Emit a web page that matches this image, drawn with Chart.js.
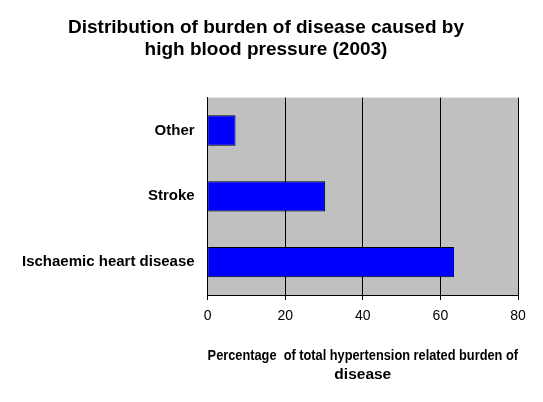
<!DOCTYPE html>
<html>
<head>
<meta charset="utf-8">
<script src="https://cdn.jsdelivr.net/npm/chart.js@4"></script>
<style>
  html, body { margin: 0; padding: 0; background: #fff; }
  #wrap { width: 543px; height: 402px; }
</style>
</head>
<body>
<div id="wrap"><canvas id="chart" width="543" height="402"></canvas></div>
<script>
const categories = ['Other', 'Stroke', 'Ischaemic heart disease'];
const burdenShare = [7.2, 30.3, 63.5];
const xTicks = [0, 20, 40, 60, 80];

// gray plot background like the original spreadsheet chart
const plotBg = {
    id: 'plotBg',
    beforeDraw(chart) {
        const { ctx, chartArea: a } = chart;
        ctx.save();
        ctx.fillStyle = '#C0C0C0';
        ctx.fillRect(a.left, a.top, a.right - a.left, a.bottom - a.top);
        ctx.restore();
    }
};

Chart.defaults.font.family = '"Liberation Sans", Arial, sans-serif';
Chart.defaults.color = '#000';

new Chart(document.getElementById('chart').getContext('2d'), {
    type: 'bar',
    data: {
        labels: categories,
        datasets: [{
            data: burdenShare,
            backgroundColor: '#0000FF',
            borderColor: '#000',
            borderWidth: 1,
            categoryPercentage: 1,
            barPercentage: 0.46
        }]
    },
    plugins: [plotBg],
    options: {
        indexAxis: 'y',
        responsive: false,
        animation: false,
        layout: { padding: { left: 14, right: 25, top: 0, bottom: 14 } },
        plugins: {
            legend: { display: false },
            tooltip: { enabled: false },
            title: {
                display: true,
                text: ['Distribution of burden of disease caused by', 'high blood pressure (2003)'],
                font: { size: 19, weight: 'bold' },
                padding: { top: 16, bottom: 36 },
                lineHeight: 1.2
            }
        },
        scales: {
            x: {
                min: 0, max: 80,
                afterBuildTicks(axis) { axis.ticks = xTicks.map(v => ({ value: v })); },
                grid: { color: '#000', drawTicks: true, tickLength: 5 },
                border: { color: '#000' },
                ticks: { font: { size: 14 }, padding: 8 },
                title: {
                    display: true,
                    text: ['Percentage  of total hypertension related burden of', 'disease'],
                    font: { size: 15.5, weight: 'bold' },
                    padding: { top: 14 },
                    lineHeight: 1.25
                }
            },
            y: {
                offset: true,
                grid: { display: false, offset: true, drawTicks: true, tickLength: 5 },
                border: { color: '#000' },
                ticks: { font: { size: 15, weight: 'bold' }, padding: 8 }
            }
        }
    }
});
</script>
</body>
</html>
